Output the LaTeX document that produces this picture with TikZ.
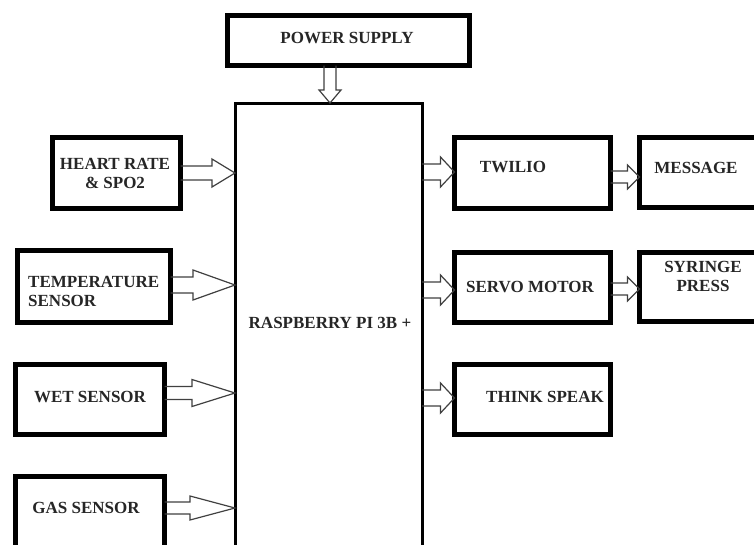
\documentclass[tikz,border=0pt]{standalone}
\usepackage{fontspec}
\setmainfont{Liberation Serif}
\usetikzlibrary{calc}
\tikzset{
  box/.style={draw=black, line width=5pt, rectangle, inner sep=0pt, outer sep=0pt, fill=white},
  bigbox/.style={draw=black, line width=3pt, rectangle, inner sep=0pt, outer sep=0pt, fill=white},
  lbl/.style={font=\bfseries\fontsize{17}{21}\selectfont, inner sep=0pt, text=black!85},
  hollow/.style={draw=black!75, line width=1.2pt, line join=miter}
}
% horizontal hollow arrow: start, tip, shaft half-width, head half-width, head length
\newcommand\harrow[5]{%
  \draw[hollow] ($(#1)+(0,#3)$) -- ($(#2)+(-#5,#3)$) -- ($(#2)+(-#5,#4)$) -- (#2)
    -- ($(#2)+(-#5,-#4)$) -- ($(#2)+(-#5,-#3)$) -- ($(#1)+(0,-#3)$);}
% vertical (downward) hollow arrow
\newcommand\varrow[5]{%
  \draw[hollow] ($(#1)+(-#3,0)$) -- ($(#2)+(-#3,-#5)$) -- ($(#2)+(-#4,-#5)$) -- (#2)
    -- ($(#2)+(#4,-#5)$) -- ($(#2)+(#3,-#5)$) -- ($(#1)+(#3,0)$);}
\begin{document}
\begin{tikzpicture}[x=1pt,y=-1pt]
\clip (0,0) rectangle (754,544);
\fill[white] (0,0) rectangle (754,544);

% boxes
\node[box, minimum width=242pt, minimum height=50pt] (ps) at (348.5,40.5) {};
\node[bigbox, minimum width=187pt, minimum height=467pt] (rpi) at (328.5,336.5) {};
\node[box, minimum width=128pt, minimum height=71pt] (hr) at (116.5,173) {};
\node[box, minimum width=153pt, minimum height=72pt] (temp) at (94,286.5) {};
\node[box, minimum width=149pt, minimum height=70pt] (wet) at (90,399.5) {};
\node[box, minimum width=149pt, minimum height=71pt] (gas) at (90,512) {};
\node[box, minimum width=156pt, minimum height=71pt] (tw) at (532.5,173) {};
\node[box, minimum width=118pt, minimum height=70pt] (msg) at (698.5,172.5) {};
\node[box, minimum width=156pt, minimum height=70pt] (sm) at (532.5,287.5) {};
\node[box, minimum width=118pt, minimum height=69pt] (sp) at (698.5,287) {};
\node[box, line width=4.5pt, minimum width=156pt, minimum height=70pt] (ts) at (532.5,399.5) {};

% texts
\node[lbl] at (347,38) {POWER SUPPLY};
\node[lbl, align=center] at (115,173.5) {HEART RATE\\[-2pt]\& SPO2};
\node[lbl, align=left, anchor=west] at (28,291) {TEMPERATURE\\[-2pt]SENSOR};
\node[lbl] at (90,397) {WET SENSOR};
\node[lbl] at (86,508) {GAS SENSOR};
\node[lbl] at (330,323) {RASPBERRY PI 3B +};
\node[lbl] at (513,167) {TWILIO};
\node[lbl] at (696,168) {MESSAGE};
\node[lbl] at (530,287) {SERVO MOTOR};
\node[lbl, align=center] at (703,276) {SYRINGE\\[-2pt]PRESS};
\node[lbl] at (545,397) {THINK SPEAK};

% connector end points
\coordinate (pss) at (ps.south -| 330,0);
\coordinate (pst) at (rpi.north -| 330,0);
\coordinate (hrs) at (hr.east);
\coordinate (hrt) at (rpi.west |- hr.east);
\coordinate (tes) at (temp.east |- 0,285);
\coordinate (tet) at (rpi.west |- 0,285);
\coordinate (wes) at (wet.east |- 0,393);
\coordinate (wet) at (rpi.west |- 0,393);
\coordinate (gas) at (gas.east |- 0,508);
\coordinate (gat) at (rpi.west |- 0,508);
\coordinate (tws) at (rpi.east |- 0,172);
\coordinate (twt) at (tw.west |- 0,172);
\coordinate (sms) at (rpi.east |- 0,290);
\coordinate (smt) at (sm.west |- 0,290);
\coordinate (tss) at (rpi.east |- 0,398);
\coordinate (tst) at (ts.west |- 0,398);
\coordinate (mss) at (tw.east |- 0,177);
\coordinate (mst) at (msg.west |- 0,177);
\coordinate (sps) at (sm.east |- 0,289);
\coordinate (spt) at (sp.west |- 0,289);

% arrows
\varrow{pss}{pst}{6}{11}{13}
\harrow{hrs}{hrt}{7}{14}{23}
\harrow{tes}{tet}{8}{15}{42}
\harrow{wes}{wet}{6.5}{13.5}{43}
\harrow{gas}{gat}{6}{12}{45}
\harrow{tws}{twt}{8}{15}{14}
\harrow{sms}{smt}{8}{15}{14}
\harrow{tss}{tst}{8}{15}{14}
\harrow{mss}{mst}{6}{12}{12}
\harrow{sps}{spt}{6}{12}{12}
\end{tikzpicture}
\end{document}
